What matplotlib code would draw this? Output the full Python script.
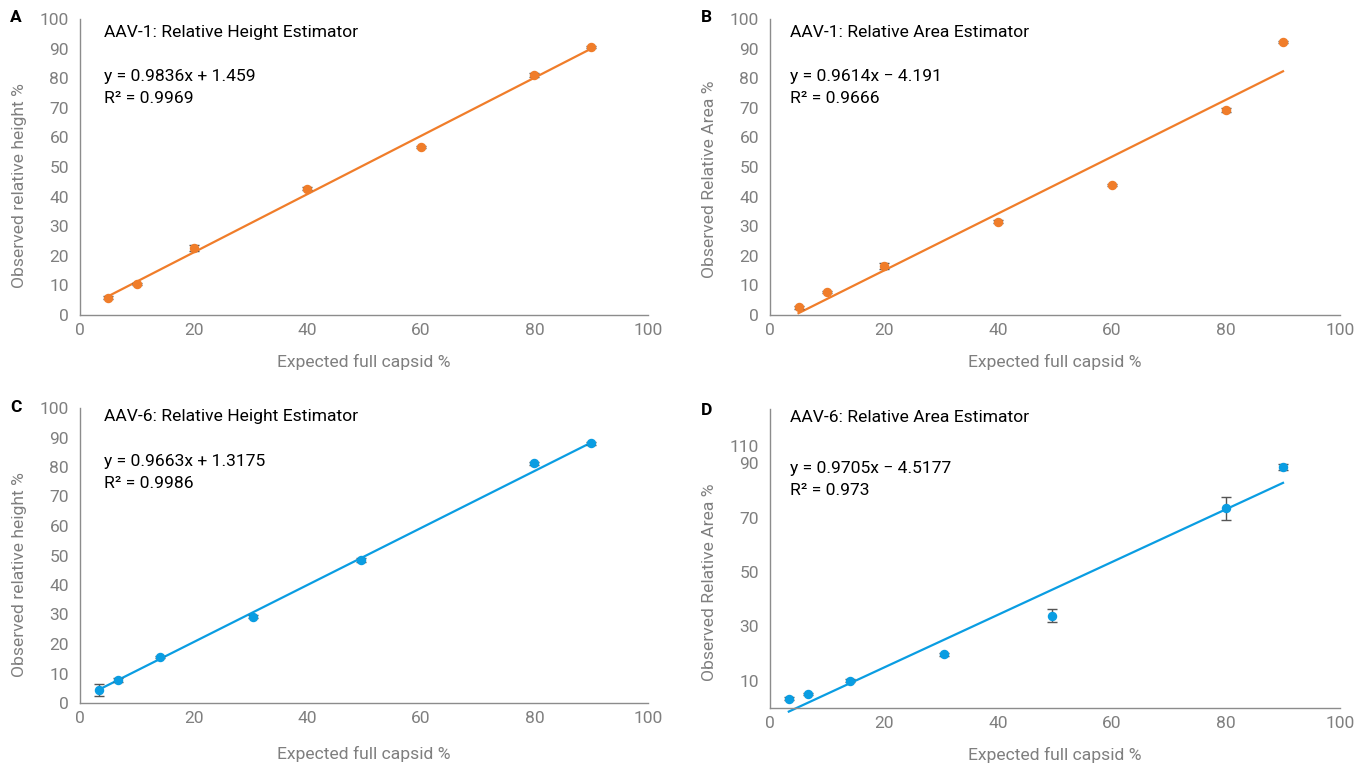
import matplotlib
matplotlib.use("Agg")
import matplotlib.pyplot as plt
import numpy as np

plt.rcParams['font.family'] = ['Roboto', 'DejaVu Sans']

ORANGE = '#F07D2A'
BLUE = '#0A9DE2'
GREY = '#8C8C8C'
TICK_GREY = '#7F7F7F'

# AAV-1 expected full capsid levels
aav1_expected = [5, 10, 20, 40, 60, 80, 90]
aav1_height = [5.9, 10.5, 22.6, 42.6, 56.8, 81.1, 90.5]
aav1_height_err = [0.5, 0.4, 1.0, 0.5, 0.4, 0.6, 0.4]
aav1_area = [2.6, 7.7, 16.5, 31.5, 44.0, 69.3, 92.3]
aav1_area_err = [0.5, 0.4, 0.9, 0.5, 0.4, 0.7, 0.4]

# AAV-6 expected full capsid levels
aav6_expected = [3.3, 6.7, 14, 30.5, 49.5, 80, 90]
aav6_height = [4.5, 7.8, 15.6, 29.2, 48.5, 81.2, 88.1]
aav6_height_err = [2.1, 0.6, 0.5, 0.5, 0.8, 0.5, 0.5]
aav6_area = [3.4, 5.2, 10.1, 19.7, 34.0, 73.4, 88.6]
aav6_area_err = [0.5, 0.4, 0.5, 0.5, 2.4, 4.3, 1.0]

# Linear trend fits (slope, intercept, equation, R²)
fit_a = (0.9836, 1.459, "y = 0.9836x + 1.459", "R² = 0.9969")
fit_b = (0.9614, -4.191, "y = 0.9614x \u2212 4.191", "R² = 0.9666")
fit_c = (0.9663, 1.3175, "y = 0.9663x + 1.3175", "R² = 0.9986")
fit_d = (0.9705, -4.5177, "y = 0.9705x \u2212 4.5177", "R² = 0.973")

x_ticks = [0, 20, 40, 60, 80, 100]
y_ticks_std = list(range(0, 101, 10))
y_ticks_d = [10, 30, 50, 70, 90, 96.5]
y_ticklabels_d = ['10', '30', '50', '70', '90', '110']

TXT = 12.6

fig = plt.figure(figsize=(13.7, 7.69), dpi=100)
W, H = 1370, 769


def make_axes(x0, x1, y_top, y_bot):
    return fig.add_axes([x0 / W, 1 - y_bot / H, (x1 - x0) / W, (y_bot - y_top) / H])


def style(ax, ylabel, ylim, yticks, yticklabels=None, xlabelpad=9, ylabel_y=0.5):
    ax.set_xlim(0, 100)
    ax.set_ylim(*ylim)
    ax.set_xticks(x_ticks)
    ax.set_yticks(yticks)
    if yticklabels is not None:
        ax.set_yticklabels(yticklabels)
    for s in ('top', 'right'):
        ax.spines[s].set_visible(False)
    for s in ('left', 'bottom'):
        ax.spines[s].set_color(GREY)
        ax.spines[s].set_linewidth(1.0)
    ax.tick_params(axis='both', length=0, labelsize=12.5, labelcolor=TICK_GREY)
    ax.tick_params(axis='y', pad=8)
    ax.tick_params(axis='x', pad=6)
    ax.set_xlabel("Expected full capsid %", fontsize=TXT, color=TICK_GREY, labelpad=xlabelpad)
    ax.set_ylabel(ylabel, fontsize=TXT, color=TICK_GREY)
    ax.yaxis.set_label_coords(-53 / ax.bbox.width, ylabel_y)


def draw(ax, xs, ys, errs, fit, color, title, letter, ty, ey, ry, tx):
    slope, intercept, eq, r2 = fit
    xl = np.array([min(xs), max(xs)])
    ax.plot(xl, slope * xl + intercept, color=color, lw=1.6, zorder=2, clip_on=False)
    ax.errorbar(xs, ys, yerr=errs, fmt='o', color=color, ms=5.8, mec=color,
                ecolor='#555555', elinewidth=1.0, capsize=3.5, capthick=1.0,
                zorder=3, clip_on=False)
    ax.text(tx, ty, title, transform=ax.transAxes, fontsize=TXT, color='black',
            va='center', ha='left')
    ax.text(tx, ey, eq, transform=ax.transAxes, fontsize=TXT, color='black',
            va='center', ha='left')
    ax.text(tx, ry, r2, transform=ax.transAxes, fontsize=TXT, color='black',
            va='center', ha='left')
    fig.text(letter[1] / W, 1 - letter[2] / H, letter[0], fontsize=12.5,
             fontweight='bold', color='black', va='center', ha='left')


axA = make_axes(80, 648, 19, 315)
style(axA, "Observed relative height %", (0, 100), y_ticks_std, xlabelpad=11, ylabel_y=0.436)
draw(axA, aav1_expected, aav1_height, aav1_height_err, fit_a, ORANGE,
     "AAV-1: Relative Height Estimator", ("A", 10, 18), 0.953, 0.805, 0.73, 0.042)

axB = make_axes(770, 1340, 19, 315)
style(axB, "Observed Relative Area %", (0, 100), y_ticks_std, xlabelpad=11, ylabel_y=0.459)
draw(axB, aav1_expected, aav1_area, aav1_area_err, fit_b, ORANGE,
     "AAV-1: Relative Area Estimator", ("B", 701, 18), 0.953, 0.805, 0.73, 0.035)

axC = make_axes(80, 648, 408, 703)
style(axC, "Observed relative height %", (0, 100), y_ticks_std, xlabelpad=14, ylabel_y=0.437)
draw(axC, aav6_expected, aav6_height, aav6_height_err, fit_c, BLUE,
     "AAV-6: Relative Height Estimator", ("C", 10, 408), 0.97, 0.818, 0.743, 0.042)

axD = make_axes(770, 1340, 409, 708)
style(axD, "Observed Relative Area %", (0, 110), y_ticks_d, y_ticklabels_d, xlabelpad=11, ylabel_y=0.421)
draw(axD, aav6_expected, aav6_area, aav6_area_err, fit_d, BLUE,
     "AAV-6: Relative Area Estimator", ("D", 701, 410), 0.973, 0.802, 0.729, 0.035)

fig.savefig("out.png", dpi=100)
